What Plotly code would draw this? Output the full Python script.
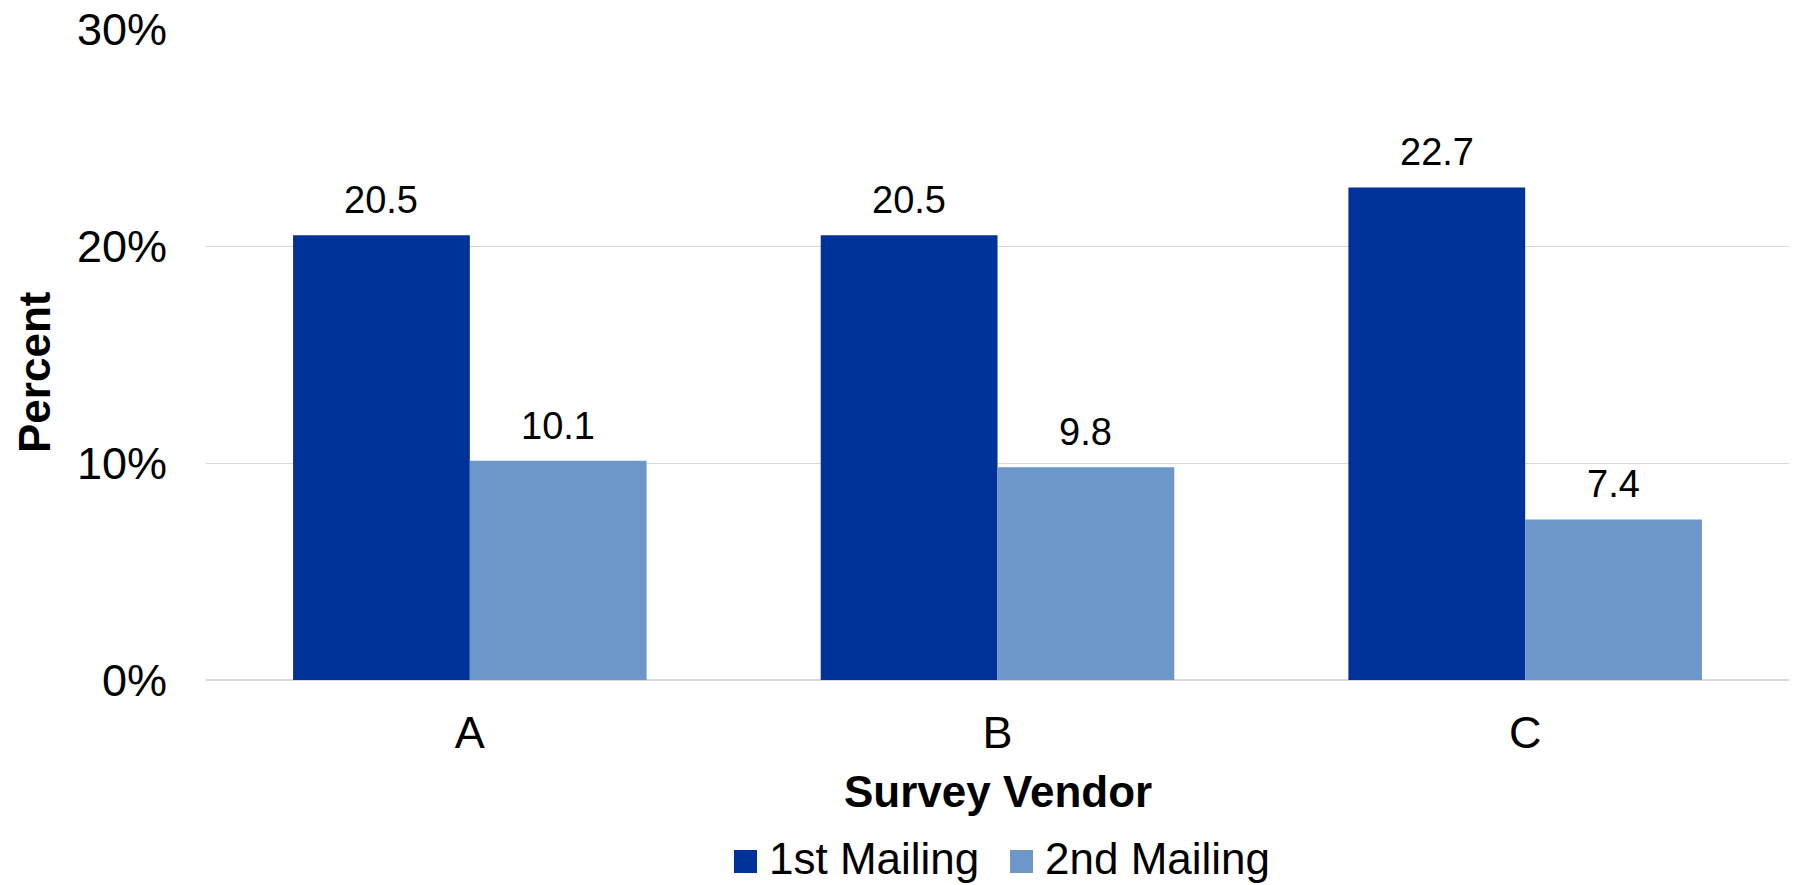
import plotly.graph_objects as go

# Response rates by survey vendor and mailing wave
vendors = ["A", "B", "C"]
first_mailing = [20.5, 20.5, 22.7]
second_mailing = [10.1, 9.8, 7.4]
series_names = ["1st Mailing", "2nd Mailing"]
y_ticks = [0, 10, 20, 30]
y_tick_labels = ["0%", "10%", "20%", "30%"]

colors = ["#003399", "#6D97C8"]
FONT = "Arial, Liberation Sans, sans-serif"

W, H = 1794, 885
M_L, M_R, M_T, M_B = 206, 5, 29, 205
PW = W - M_L - M_R
PH = H - M_T - M_B
BARGAP = 0.33


def px_x(px):
    return (px - M_L) / PW


def px_y(py):
    return (H - M_B - py) / PH


fig = go.Figure()
for name, vals, col in zip(series_names, [first_mailing, second_mailing], colors):
    fig.add_trace(go.Bar(
        x=vendors, y=vals, name=name, marker=dict(color=col, line=dict(width=0)),
        showlegend=False,
    ))

# value labels centred over each bar
bar_px = PW / len(vendors) * (1 - BARGAP) / 2
annotations = []
for k, vals in enumerate([first_mailing, second_mailing]):
    shift = (k - 0.5) * bar_px
    for v, val in zip(vendors, vals):
        annotations.append(dict(
            x=v, y=val, xref="x", yref="y", text=f"{val:.1f}", showarrow=False,
            xshift=shift, yshift=12, yanchor="bottom",
            font=dict(family=FONT, size=38, color="#000000"),
        ))

# axis titles
annotations.append(dict(
    x=0.5, y=px_y(791), xref="paper", yref="paper", text="<b>Survey Vendor</b>",
    showarrow=False, xanchor="center", yanchor="middle",
    font=dict(family=FONT, size=44, color="#000000"),
))
annotations.append(dict(
    x=px_x(34), y=px_y(372), xref="paper", yref="paper", text="<b>Percent</b>",
    showarrow=False, xanchor="center", yanchor="middle", textangle=-90,
    font=dict(family=FONT, size=44, color="#000000"),
))

# legend: swatches and labels
shapes = []
legend_items = [(734, 767), (1010, 1043)]
for (sx, tx), name, col in zip(legend_items, series_names, colors):
    shapes.append(dict(
        type="rect", xref="paper", yref="paper",
        x0=px_x(sx), x1=px_x(sx + 23), y0=px_y(873), y1=px_y(850),
        fillcolor=col, line=dict(width=0),
    ))
    annotations.append(dict(
        x=px_x(tx), y=px_y(858), xref="paper", yref="paper", text=name,
        showarrow=False, xanchor="left", yanchor="middle",
        font=dict(family=FONT, size=44, color="#000000"),
    ))

fig.update_layout(
    width=W, height=H,
    margin=dict(l=M_L, r=M_R, t=M_T, b=M_B),
    paper_bgcolor="#FFFFFF", plot_bgcolor="#FFFFFF",
    barmode="group", bargap=BARGAP, bargroupgap=0,
    font=dict(family=FONT, color="#000000"),
    annotations=annotations, shapes=shapes,
    showlegend=False,
)
fig.update_xaxes(
    type="category", showgrid=False, zeroline=False, showline=False, ticks="",
    tickfont=dict(family=FONT, size=45, color="#000000"), ticklabelstandoff=22,
)
fig.update_yaxes(
    range=[0, 30], tickvals=y_ticks, ticktext=y_tick_labels,
    showgrid=True, gridcolor="#D9D9D9", gridwidth=1.3,
    zeroline=True, zerolinecolor="#D9D9D9", zerolinewidth=1.6,
    showline=False, ticks="",
    tickfont=dict(family=FONT, size=45, color="#000000"), ticklabelstandoff=38,
)

fig.write_html("out.html")
